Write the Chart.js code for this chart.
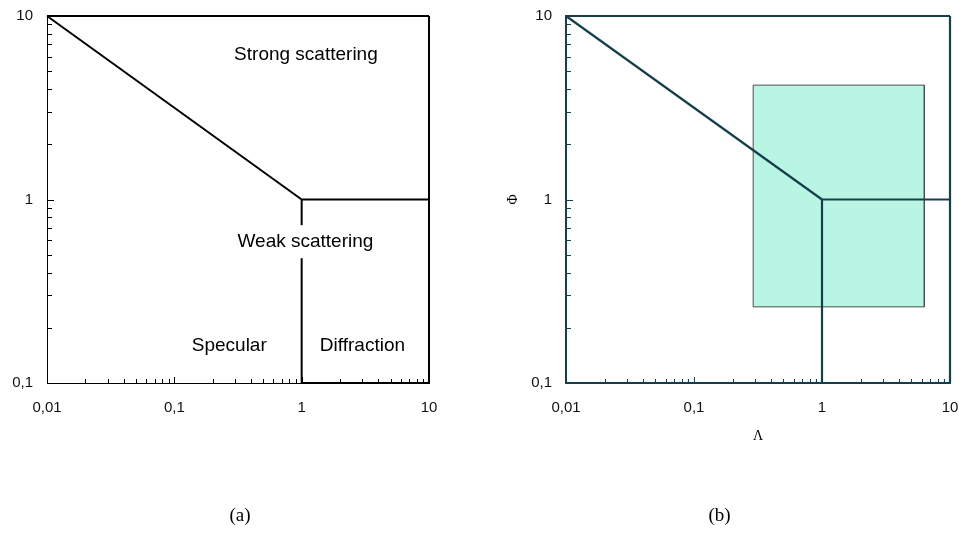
<!DOCTYPE html>
<html>
<head>
<meta charset="utf-8">
<script src="https://cdn.jsdelivr.net/npm/chart.js@4.4.1/dist/chart.umd.min.js"></script>
<style>
  html, body { margin: 0; padding: 0; background: #fff; overflow: hidden; }
  #wrap { position: relative; width: 959px; height: 543px; }
  canvas { position: absolute; top: 0; }
  #chartA { left: 0; }
  #chartB { left: 480px; }
</style>
</head>
<body>
<div id="wrap">
  <canvas id="chartA" width="480" height="543"></canvas>
  <canvas id="chartB" width="479" height="543"></canvas>
</div>
<script>
// regime boundaries, one segment per entry (Lambda, Phi)
const boundaryLambda = [[0.01, 10], [10, 10], [0.01, 1], [1, 10], [1, 1], [1, 10]];
const boundaryPhi = [[10, 10], [10, 0.1], [10, 1], [1, 1], [1, 0.1], [0.1, 0.1]];

// shaded range in panel (b)
const rangeLambda = [0.29, 6.3];
const rangePhi = [0.26, 4.2];

const regionNames = ["Strong scattering", "Weak scattering", "Specular", "Diffraction"];
const regionLambda = [1.08, 1.07, 0.27, 3.0];
const regionPhi = [6.3, 0.6, 0.163, 0.163];

const xTickValues = [0.01, 0.1, 1, 10];
const xTickLabels = ["0,01", "0,1", "1", "10"];
const yTickValues = [0.1, 1, 10];
const yTickLabels = ["0,1", "1", "10"];

const sansFont = "'Liberation Sans', Arial, sans-serif";
const serifFont = "'Liberation Serif', 'DejaVu Serif', serif";

// small inside ticks for every 1..9 x 10^n
const minorTicks = {
  id: "minorTicks",
  afterDraw(chart, args, opts) {
    const { ctx, chartArea, scales } = chart;
    const x = scales.x, y = scales.y;
    ctx.save();
    ctx.strokeStyle = opts.color;
    ctx.lineWidth = 1;
    ctx.beginPath();
    for (let d = 0; d < xTickValues.length - 1; d++) {
      for (let k = 1; k < 10; k++) {
        const px = Math.round(x.getPixelForValue(xTickValues[d] * k)) + 0.5;
        const len = k === 1 ? 6 : 4;
        ctx.moveTo(px, chartArea.bottom);
        ctx.lineTo(px, chartArea.bottom - len);
      }
    }
    for (let d = 0; d < yTickValues.length - 1; d++) {
      for (let k = 1; k < 10; k++) {
        const py = Math.round(y.getPixelForValue(yTickValues[d] * k)) + 0.5;
        const len = k === 1 ? 7 : 5;
        ctx.moveTo(chartArea.left, py);
        ctx.lineTo(chartArea.left + len, py);
      }
    }
    ctx.stroke();
    ctx.restore();
  },
};

const regionText = {
  id: "regionText",
  afterDatasetsDraw(chart, args, opts) {
    if (!opts.show) return;
    const { ctx, scales } = chart;
    ctx.save();
    ctx.font = "19px " + sansFont;
    ctx.textAlign = "center";
    ctx.textBaseline = "middle";
    regionNames.forEach((name, i) => {
      const px = scales.x.getPixelForValue(regionLambda[i]);
      const py = scales.y.getPixelForValue(regionPhi[i]) + 2;
      const w = ctx.measureText(name).width;
      ctx.fillStyle = "#fff";
      ctx.fillRect(px - w / 2 - 3, py - 17, w + 6, 33);
      ctx.fillStyle = "#000";
      ctx.fillText(name, px, py);
    });
    ctx.restore();
  },
};

const caption = {
  id: "caption",
  afterDraw(chart, args, opts) {
    const { ctx } = chart;
    ctx.save();
    ctx.font = "19px " + serifFont;
    ctx.fillStyle = "#000";
    ctx.textAlign = "center";
    ctx.textBaseline = "middle";
    ctx.fillText(opts.text, chart.width / 2, 516);
    ctx.restore();
  },
};

function boundaryDatasets(color, width) {
  return boundaryLambda.map((lx, i) => ({
    data: lx.map((v, j) => ({ x: v, y: boundaryPhi[i][j] })),
    showLine: true,
    borderColor: color,
    borderWidth: width,
    pointRadius: 0,
    fill: false,
    clip: false,
  }));
}

function makeChart(canvas, cfg) {
  const datasets = boundaryDatasets(cfg.color, cfg.lineWidth);
  if (cfg.showRange) {
    // drawn last in the list so it sits under the boundaries
    datasets.push({
      data: [
        { x: rangeLambda[0], y: rangePhi[0] },
        { x: rangeLambda[0], y: rangePhi[1] },
        { x: rangeLambda[1], y: rangePhi[1] },
        { x: rangeLambda[1], y: rangePhi[0] },
        { x: rangeLambda[0], y: rangePhi[0] },
      ],
      showLine: true,
      borderColor: "#4d4d4d",
      borderWidth: 1,
      backgroundColor: "#b8f5e3",
      fill: "shape",
      pointRadius: 0,
      tension: 0,
    });
  }

  return new Chart(canvas, {
    type: "scatter",
    data: { datasets },
    options: {
      responsive: false,
      animation: false,
      devicePixelRatio: 1,
      layout: { padding: { top: 16, right: cfg.padRight, bottom: 0, left: 0 } },
      plugins: {
        legend: { display: false },
        tooltip: { enabled: false },
        minorTicks: { color: cfg.color },
        regionText: { show: cfg.showRegions },
        caption: { text: cfg.caption },
      },
      scales: {
        x: {
          type: "logarithmic",
          min: 0.01,
          max: 10,
          afterBuildTicks: (scale) => {
            scale.ticks = xTickValues.map((v) => ({ value: v }));
          },
          afterFit: (scale) => {
            scale.height = 160;
            scale.paddingLeft = 0;
            scale.paddingRight = 0;
          },
          grid: { display: true, drawOnChartArea: false, drawTicks: false },
          border: { color: cfg.color, width: cfg.axisWidth },
          ticks: {
            autoSkip: false,
            maxRotation: 0,
            padding: 16,
            color: "#111",
            font: { family: sansFont, size: 15 },
            callback: (v, i) => xTickLabels[i],
          },
          title: {
            display: !!cfg.xTitle,
            text: cfg.xTitle || "",
            color: "#000",
            font: { family: serifFont, size: 14 },
            padding: { top: 0, bottom: 98 },
          },
        },
        y: {
          type: "logarithmic",
          min: 0.1,
          max: 10,
          afterBuildTicks: (scale) => {
            scale.ticks = yTickValues.map((v) => ({ value: v }));
          },
          afterFit: (scale) => {
            scale.width = cfg.yWidth;
            scale.paddingTop = 0;
            scale.paddingBottom = 0;
          },
          grid: { display: true, drawOnChartArea: false, drawTicks: false },
          border: { color: cfg.color, width: cfg.axisWidth },
          ticks: {
            padding: 14,
            color: "#111",
            font: { family: sansFont, size: 15 },
            callback: (v, i) => yTickLabels[i],
          },
          title: {
            display: !!cfg.yTitle,
            text: cfg.yTitle || "",
            color: "#000",
            font: { family: serifFont, size: 14 },
            padding: { top: 25, bottom: 0 },
          },
        },
      },
    },
    plugins: [minorTicks, regionText, caption],
  });
}

makeChart(document.getElementById("chartA"), {
  color: "#000",
  lineWidth: 2,
  axisWidth: 1,
  yWidth: 47,
  padRight: 51,
  showRegions: true,
  showRange: false,
  caption: "(a)",
});

makeChart(document.getElementById("chartB"), {
  color: "#173f4b",
  lineWidth: 2.2,
  axisWidth: 2,
  yWidth: 86,
  padRight: 9,
  showRegions: false,
  showRange: true,
  xTitle: "\u039b",
  yTitle: "\u03a6",
  caption: "(b)",
});
</script>
</body>
</html>
